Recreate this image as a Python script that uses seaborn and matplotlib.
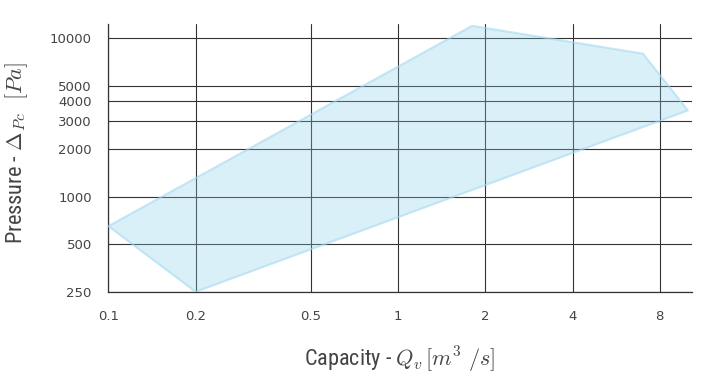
import matplotlib
matplotlib.use('Agg')
import matplotlib.pyplot as plt
import matplotlib.ticker as mticker
from matplotlib import font_manager
import seaborn as sns

# fan operating envelope (polygon corners)
capacity = [0.1, 1.8, 7.0, 10.0, 0.2, 0.1]
pressure = [650, 12000, 8000, 3500, 250, 650]

x_ticks = [0.1, 0.2, 0.5, 1, 2, 4, 8]
y_ticks = [250, 500, 1000, 2000, 3000, 4000, 5000, 10000]

sns.set_style('white')
plt.rcParams['mathtext.fontset'] = 'cm'

# pick a narrow face for the axis titles if one is around
names = {f.name for f in font_manager.fontManager.ttflist}
narrow = [n for n in ('Roboto Condensed', 'Liberation Sans Narrow', 'Open Sans Condensed')
          if n in names]

fig, ax = plt.subplots(figsize=(7.13, 3.77), dpi=100)
fig.subplots_adjust(left=0.152, right=0.970, top=0.936, bottom=0.226)

ax.fill(capacity, pressure, facecolor='skyblue', alpha=0.3, zorder=3)
ax.plot(capacity, pressure, color='skyblue', alpha=0.45, lw=1.5, zorder=3)

ax.set_xscale('log')
ax.set_yscale('log')
ax.set_xlim(0.1, 10.3)
ax.set_ylim(250, 12300)

ax.xaxis.set_major_locator(mticker.FixedLocator(x_ticks))
ax.yaxis.set_major_locator(mticker.FixedLocator(y_ticks))
ax.xaxis.set_minor_locator(mticker.NullLocator())
ax.yaxis.set_minor_locator(mticker.NullLocator())
ax.xaxis.set_major_formatter(mticker.FixedFormatter([str(t) for t in x_ticks]))
ax.yaxis.set_major_formatter(mticker.FixedFormatter([str(t) for t in y_ticks]))

ax.grid(True, color='#333333', lw=0.8, zorder=1)
ax.set_axisbelow(True)
ax.tick_params(axis='x', length=0, labelsize=9.5, labelcolor='#444444', pad=13)
ax.tick_params(axis='y', length=0, labelsize=9.5, labelcolor='#444444', pad=12)

sns.despine(ax=ax)
for s in ('left', 'bottom'):
    ax.spines[s].set_color('#333333')
    ax.spines[s].set_linewidth(0.9)

label_kw = dict(fontsize=16, family=narrow + ['DejaVu Sans'], fontstretch='condensed',
                color='#444444')
ax.set_xlabel(r'Capacity - $Q_v\,[m^3\ /s]$', labelpad=16, **label_kw)
ax.set_ylabel(r'Pressure - $\Delta_{Pc}\ \ [Pa]$', **label_kw)
ax.yaxis.set_label_coords(-0.134, 0.52)

fig.savefig('out.png', dpi=100)
